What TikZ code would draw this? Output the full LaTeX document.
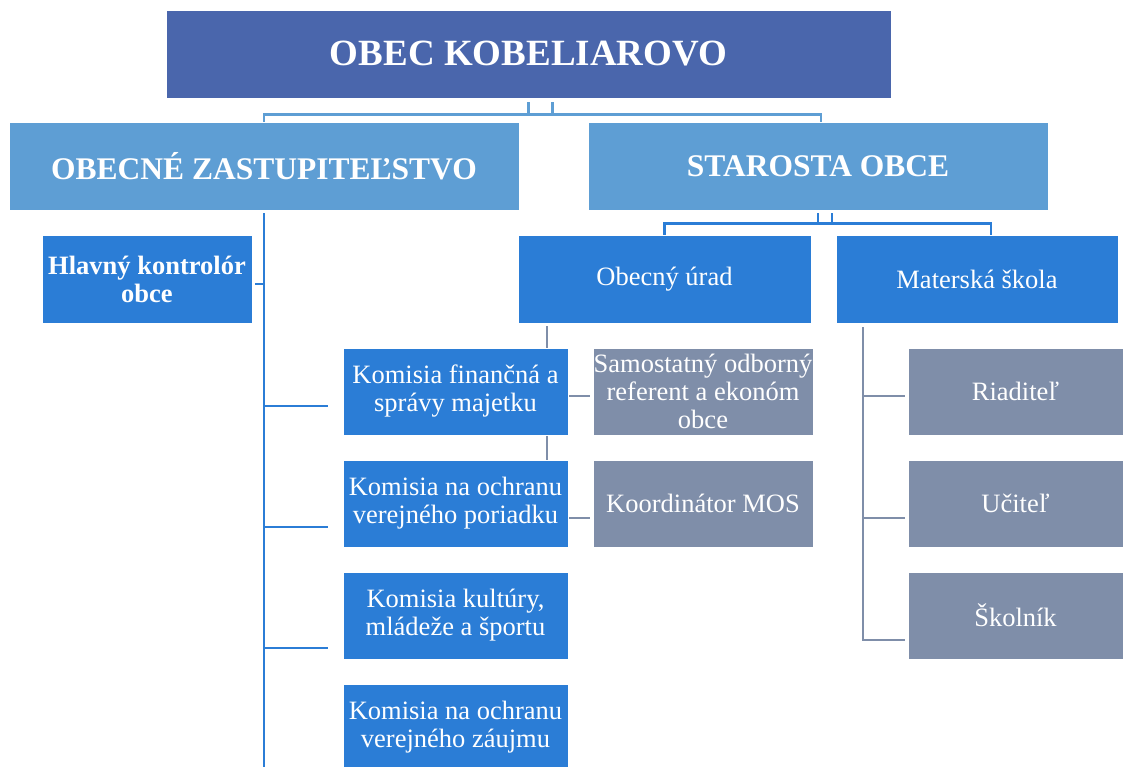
\documentclass[tikz,border=0pt]{standalone}
\usepackage{fontspec}
\setmainfont{Liberation Serif}
\usepackage{tikz}
\pgfdeclarelayer{bg}
\pgfsetlayers{bg,main}

\definecolor{obecBlue}{HTML}{4A66AC}
\definecolor{vedenieBlue}{HTML}{5E9ED4}
\definecolor{uradBlue}{HTML}{2B7DD6}
\definecolor{skolaGrey}{HTML}{7F8EA9}

\tikzset{
  boxTop/.style={fill=obecBlue, draw=white, line width=0.6pt, text=white, inner sep=0pt,
    minimum width=725pt, minimum height=88pt, font=\bfseries\fontsize{37}{40}\selectfont},
  boxMid/.style={fill=vedenieBlue, draw=white, line width=0.6pt, text=white, inner sep=0pt,
    minimum height=88pt, font=\bfseries\fontsize{31.5}{34}\selectfont},
  boxLow/.style={fill=uradBlue, draw=white, line width=0.6pt, text=white, inner sep=0pt,
    align=center, minimum height=88pt, font=\fontsize{26.5}{28}\selectfont},
  boxGrey/.style={boxLow, fill=skolaGrey},
  lineTop/.style={draw=vedenieBlue, line width=2.7pt},
  lineMid/.style={draw=uradBlue, line width=2.7pt},
  lineGrey/.style={draw=skolaGrey, line width=2.7pt}
}

\begin{document}
\begin{tikzpicture}[x=1pt, y=-1pt]
                        \useasboundingbox (0,0) rectangle (1124,767);

                        \node[boxTop] (O) at (528.5,54) {OBEC KOBELIAROVO};

                        \node[boxMid, minimum width=510pt] (Z) at (264,166) {OBECNÉ ZASTUPITEĽSTVO};
                        \node[boxMid, minimum width=460pt] (S) at (818,166) {STAROSTA OBCE};

                        \node[boxLow, minimum width=210pt, font=\bfseries\fontsize{26.5}{28}\selectfont] (H) at (147,279) {Hlavný kontrolór\\obce};
                        \node[boxLow, minimum width=293pt] (U) at (664.5,279) {Obecný úrad};
                        \node[boxLow, minimum width=282pt] (M) at (977,279) {Materská škola};

                        \node[boxLow, minimum width=225pt, minimum height=87pt] (K1) at (455.5,391.5) {Komisia finančná a\\správy majetku};
                        \node[boxLow, minimum width=225pt, minimum height=87pt] (K2) at (455.5,503.5) {Komisia na ochranu\\verejného poriadku};
                        \node[boxLow, minimum width=225pt, minimum height=87pt] (K3) at (455.5,615.5) {Komisia kultúry,\\mládeže a športu};
                        \node[boxLow, minimum width=225pt, minimum height=87pt] (K4) at (455.5,727.5) {Komisia na ochranu\\verejného záujmu};

                        \node[boxGrey, minimum width=220pt, minimum height=87pt] (Sr) at (703,391.5) {Samostatný odborný\\referent a ekonóm\\obce};
                        \node[boxGrey, minimum width=220pt, minimum height=87pt] (Kd) at (703,503.5) {Koordinátor MOS};

                        \node[boxGrey, minimum width=215pt, minimum height=87pt] (Ri) at (1015.5,391.5) {Riaditeľ};
                        \node[boxGrey, minimum width=215pt, minimum height=87pt] (Uc) at (1015.5,503.5) {Učiteľ};
                        \node[boxGrey, minimum width=215pt, minimum height=87pt] (Sk) at (1015.5,615.5) {Školník};

                        \coordinate (zEnd) at (264,770);

                        \begin{pgfonlayer}{bg}
                        \draw[lineTop] ([xshift=24pt,yshift=-4pt]O.south) -- ++(0,12) -| (Z.north);
                        \draw[lineTop] ([yshift=-4pt]O.south) -- ++(0,12) -| ([xshift=3pt]S.north);

                        \draw[lineMid] ([xshift=14pt,yshift=-3pt]S.south) -- ++(0,10) -| (U.north);
                        \draw[lineMid] ([yshift=-3pt]S.south) -- ++(0,10) -| ([xshift=14pt]M.north);

                        \draw[lineMid] ([yshift=-3pt]Z.south) -- (zEnd);
                        \draw[lineMid] ([xshift=12pt,yshift=-5pt]H.east) -- ([xshift=3pt,yshift=-5pt]H.east);
                        \draw[lineMid] ([xshift=-79pt,yshift=-14.5pt]K1.west) -- ([xshift=-15pt,yshift=-14.5pt]K1.west);
                        \draw[lineMid] ([xshift=-79pt,yshift=-23.5pt]K2.west) -- ([xshift=-15pt,yshift=-23.5pt]K2.west);
                        \draw[lineMid] ([xshift=-79pt,yshift=-32.5pt]K3.west) -- ([xshift=-15pt,yshift=-32.5pt]K3.west);

                        \draw[lineGrey] ([xshift=-117.5pt,yshift=-3pt]U.south) |- ([xshift=-3pt,yshift=-14.5pt]Kd.west);
                        \draw[lineGrey] ([xshift=-46pt,yshift=-4.5pt]Sr.west) -- ([xshift=-3pt,yshift=-4.5pt]Sr.west);

                        \draw[lineGrey] ([xshift=-114pt,yshift=-4pt]M.south) |- ([xshift=-3pt,yshift=-24.5pt]Sk.west);
                        \draw[lineGrey] ([xshift=-45pt,yshift=-4.5pt]Ri.west) -- ([xshift=-3pt,yshift=-4.5pt]Ri.west);
                        \draw[lineGrey] ([xshift=-45pt,yshift=-14.5pt]Uc.west) -- ([xshift=-3pt,yshift=-14.5pt]Uc.west);
                        \end{pgfonlayer}
                    \end{tikzpicture}
\end{document}
